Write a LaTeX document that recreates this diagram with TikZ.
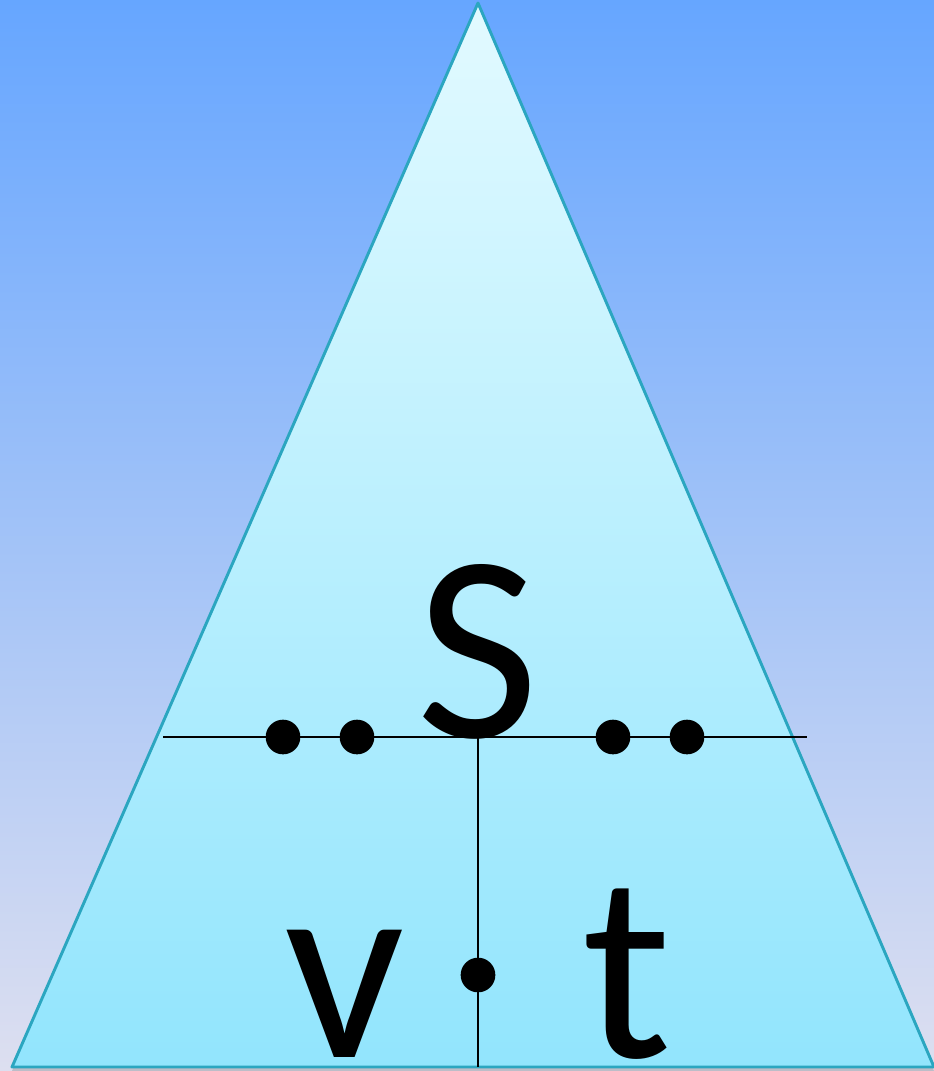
\documentclass[tikz,border=0pt]{standalone}
\usepackage{fontspec}
\newfontfamily\letterfont{Carlito}
\usetikzlibrary{positioning, calc, shadows}
\definecolor{skytop}{HTML}{66A6FF}
\definecolor{skybot}{HTML}{DDDFF0}
\definecolor{tritop}{HTML}{E2FAFF}
\definecolor{tribot}{HTML}{92E5FD}
\definecolor{triedge}{HTML}{2BA6C0}
\tikzset{
  dot/.style={circle, fill=black, inner sep=0pt, minimum size=26pt},
  letter/.style={anchor=base, inner sep=0pt, font=\letterfont\fontsize{200}{200}\selectfont},
  rule/.style={line width=1.5pt, black},
}

\begin{document}
\begin{tikzpicture}[x=0.75pt, y=-0.75pt]
    \useasboundingbox (0,0) rectangle (934,1071);
    \shade[top color=skytop, bottom color=skybot] (0,0) rectangle (934,1071);
    % triangle
    \coordinate (apex) at (478,3);
    \coordinate (bl) at (12,1067);
    \coordinate (br) at (934,1067);
    \shade[top color=tritop, bottom color=tribot, draw=triedge, line width=2.2pt,
      line join=round, drop shadow={opacity=0.35, shadow xshift=0pt, shadow yshift=-3pt}]
      (apex) -- (br) -- (bl) -- cycle;
    % letters
    \node[letter] (s) at (478,737) {S};
    \node[letter] (v) at (345,1057) {v};
    \node[letter] (t) at (627,1057) {t};
    % lines
    \coordinate (hl) at (163,737);
    \coordinate (hr) at (807,737);
    \coordinate (mid) at (478,737);
    \coordinate (foot) at (478,1067);
    \draw[rule] (hl) -- (hr);
    \draw[rule] (mid) -- (foot);
    % dots
    \node[dot] (d1) at (283,737) {};
    \node[dot] (d2) at (357,737) {};
    \node[dot] (d3) at (613,737) {};
    \node[dot] (d4) at (687,737) {};
    \node[dot] (d5) at (478,975) {};
\end{tikzpicture}
\end{document}
